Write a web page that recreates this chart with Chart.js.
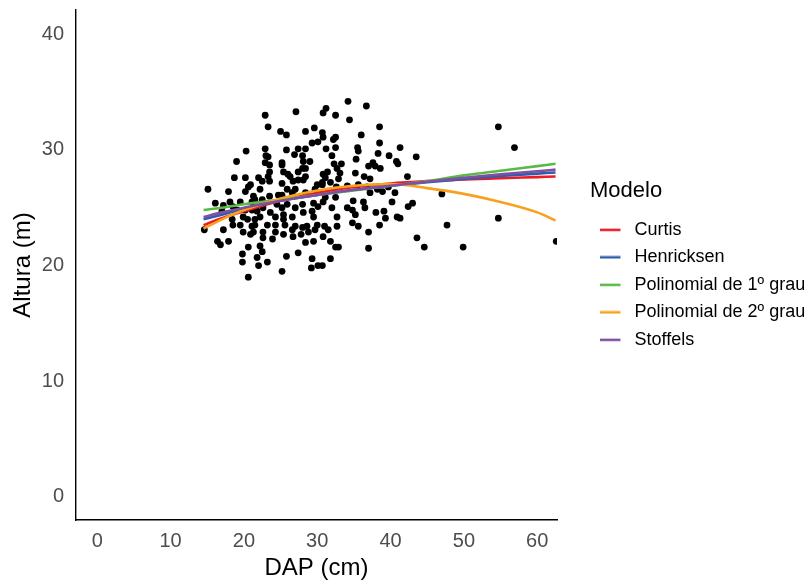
<!DOCTYPE html>
<html><head><meta charset="utf-8">
<script src="https://cdn.jsdelivr.net/npm/chart.js@4.4.1/dist/chart.umd.min.js"></script>
<style>html,body{margin:0;padding:0;background:#fff;overflow:hidden}</style>
</head><body>
<canvas id="c" width="812" height="583" style="display:block;width:812px;height:583px"></canvas>
<script>
// Observed trees: DAP (cm) and Altura (m)
const dap = [
27.1,22.9,23.3,25.0,25.8,28.4,29.6,29.3,30.1,20.3,22.9,25.8,23.0,23.3,27.4,28.4,26.9,28.0,19.0,25.2,25.2,23.5,28.1,29.0,28.0,23.5,25.4,26.0,27.4,28.4,28.4,18.7,20.2,22.0,22.5,23.3,23.5,25.2,26.7,27.4,30.0,
34.2,31.2,30.8,32.5,36.7,34.4,38.5,30.7,30.8,32.5,36.0,38.5,31.2,32.5,35.5,35.6,41.3,32.0,38.3,39.8,43.5,35.3,37.6,40.8,41.0,32.3,33.3,37.0,37.9,38.6,32.7,31.4,30.8,33.1,35.2,32.9,36.4,37.2,42.3,34.1,32.6,
15.1,20.2,20.6,22.2,23.5,25.2,27.0,28.4,16.1,17.2,19.5,21.5,18.5,22.6,24.5,25.9,27.0,28.0,29.5,20.2,21.8,23.6,25.4,26.6,28.1,29.5,18.4,20.5,22.2,24.3,14.6,18.5,19.5,21.5,23.2,24.3,25.6,27.0,28.6,30.0,17.2,19.9,20.9,22.6,24.3,25.4,28.8,22.6,23.9,26.7,27.8,16.4,17.9,16.8,20.6,22.2,22.5,28.4,29.5,19.8,25.8,21.8,29.3,19.8,22.0,23.2,29.2,30.1,25.2,20.6,
37.2,38.9,40.6,47.0,30.8,32.5,34.9,36.3,32.0,34.1,34.8,36.5,40.2,42.4,43.0,38.0,39.1,35.2,32.7,39.3,40.9,41.3,34.8,35.6,38.5,31.0,31.5,32.7,37.0,30.8,31.8,43.6,32.5,32.9,44.6,37.0,31.8,30.7,
54.7,56.9,47.7,54.7,49.9,62.6,
21.3,22.5,24.7,25.9,29.7,30.7,31.8,35.6,36.8,38.2,39.7,18.1,17.9,
22.9,26.3,28.1,20.9,26.6,21.1,22.6,17.0,19.1,21.1,25.2,29.3,30.1,19.9,21.5,25.4,21.1,21.3,26.6,28.0,29.7,27.4,
32.2,31.1,30.7,31.1
];
const altura = [
33.3,33.0,32.0,31.6,31.3,31.6,31.9,30.6,30.7,29.9,30.1,30.0,29.5,29.4,30.1,30.1,29.6,29.5,29.0,28.9,28.7,28.7,29.0,29.0,28.4,28.1,28.1,27.9,28.1,28.4,27.7,27.6,27.6,27.6,27.3,27.7,27.3,27.1,27.3,27.4,27.0,
34.2,33.6,33.2,33.0,33.8,32.6,32.0,31.5,31.1,31.1,31.3,30.6,30.1,30.2,30.2,29.9,30.2,29.5,29.7,29.5,29.4,29.2,28.9,29.0,28.8,28.8,28.8,28.6,28.6,28.4,28.4,28.1,27.9,28.0,28.0,27.5,27.7,27.5,27.7,26.9,26.8,
26.6,26.4,26.8,26.6,26.0,26.1,26.6,26.3,25.4,25.2,25.5,25.7,25.1,25.0,25.3,25.3,25.0,25.3,25.4,24.8,24.7,24.6,24.4,24.2,24.6,24.2,24.0,24.0,24.2,24.2,23.1,23.5,23.5,23.5,23.5,23.5,23.5,23.4,23.4,23.5,23.1,22.9,22.7,22.9,22.9,22.7,22.9,22.4,22.3,22.5,22.7,22.1,22.1,21.8,21.6,21.7,21.2,22.0,22.1,21.0,20.8,20.7,20.6,20.3,20.0,20.3,19.8,20.0,19.5,19.0,
26.3,26.4,26.3,26.2,25.5,25.9,25.6,25.5,25.0,25.0,24.8,25.0,25.5,25.1,25.4,24.6,24.7,24.4,24.2,24.1,24.2,24.1,23.7,23.4,23.5,23.4,23.1,23.4,22.9,22.5,22.1,22.4,21.6,21.6,21.6,21.5,20.6,20.0,
32.0,30.2,23.5,24.1,21.6,22.1,
26.0,25.7,26.1,26.6,26.6,27.0,27.2,27.0,26.8,26.6,26.8,25.5,26.4,
28.9,27.7,27.4,27.0,26.3,25.5,25.45,24.7,24.8,24.8,25.0,24.7,25.1,24.2,24.0,24.0,23.4,22.9,23.1,23.3,23.1,21.1,
30.9,27.6,27.2,25.9
];

// Fitted model curves, read at these DAP values
const curveDap   = [14.5, 17, 20, 25, 30, 35, 40, 45, 50, 55, 60, 62.5];
const curtis     = [23.5, 24.1, 24.7, 25.6, 26.3, 26.8, 27.1, 27.3, 27.45, 27.55, 27.65, 27.7];
const henricksen = [24.0, 24.4, 24.9, 25.6, 26.1, 26.55, 26.9, 27.2, 27.5, 27.75, 27.95, 28.05];
const pol1       = [24.8, 25.0, 25.3, 25.7, 26.1, 26.5, 26.9, 27.3, 27.8, 28.2, 28.6, 28.8];
const pol2       = [23.2, 24.0, 24.8, 25.8, 26.5, 26.9, 27.05, 26.7, 26.2, 25.5, 24.6, 23.9];
const stoffels   = [24.2, 24.6, 25.0, 25.6, 26.1, 26.55, 26.9, 27.25, 27.6, 27.9, 28.15, 28.3];

const modelNames = ['Curtis', 'Henricksen', 'Polinomial de 1º grau', 'Polinomial de 2º grau', 'Stoffels'];
const modelSeries = [curtis, henricksen, pol1, pol2, stoffels];
const modelColors = ['#EC1C24', '#2E5DAD', '#5BB947', '#F8A11D', '#7F4FA1'];

const xTicks = [0, 10, 20, 30, 40, 50, 60];
const yTicks = [0, 10, 20, 30, 40];

const FONT = "'Liberation Sans', Arial, Helvetica, sans-serif";

function keyImage(color) {
  const c = document.createElement('canvas');
  c.width = 26; c.height = 4;
  const g = c.getContext('2d');
  g.strokeStyle = color; g.lineWidth = 2.5;
  g.beginPath(); g.moveTo(0, 2); g.lineTo(21, 2); g.stroke();
  return c;
}

const datasets = [{
  label: 'obs',
  data: dap.map((d, i) => ({x: d, y: altura[i]})),
  backgroundColor: '#000', borderWidth: 0,
  pointRadius: 3.4, pointHoverRadius: 3.4,
  order: 99
}];
modelNames.forEach((name, k) => {
  datasets.push({
    label: name,
    data: curveDap.map((d, i) => ({x: d, y: modelSeries[k][i]})),
    showLine: true,
    borderColor: modelColors[k],
    backgroundColor: modelColors[k],
    borderWidth: 2.6,
    pointRadius: 0, pointHoverRadius: 0,
    pointStyle: keyImage(modelColors[k]),
    cubicInterpolationMode: 'monotone',
    fill: false,
    order: 5 - k
  });
});

new Chart(document.getElementById('c'), {
  type: 'scatter',
  data: { datasets },
  options: {
    responsive: false, animation: false, devicePixelRatio: 1,
    events: [],
    layout: { padding: { top: 10, left: 0, right: 0, bottom: 0 } },
    plugins: {
      tooltip: { enabled: false },
      legend: {
        position: 'right', align: 'center', fullSize: false, maxWidth: 222,
        title: { display: true, text: 'Modelo', position: 'start', color: '#000',
                 font: { family: FONT, size: 22 }, padding: { top: 8, bottom: 5.3 } },
        labels: { usePointStyle: true, pointStyleWidth: 26, padding: 9.5, color: '#000',
                  font: { family: FONT, size: 18 },
                  filter: item => item.datasetIndex > 0,
                  sort: (a, b) => a.datasetIndex - b.datasetIndex }
      }
    },
    scales: {
      x: {
        type: 'linear', position: 'bottom', min: -2.9, max: 62.7,
        grid: { display: false, drawTicks: false },
        border: { display: true, color: '#000', width: 1.4 },
        afterBuildTicks: s => { s.ticks = xTicks.map(v => ({value: v})); },
        ticks: { color: '#4D4D4D', padding: 9, font: { family: FONT, size: 20 } },
        title: { display: true, text: 'DAP (cm)', color: '#000', font: { family: FONT, size: 24 },
                 padding: { top: 0, bottom: 0 } },
        afterFit: s => { s.height = 63; s.paddingLeft = 0; s.paddingRight = 0; }
      },
      y: {
        type: 'linear', position: 'left', min: -2, max: 42.1,
        grid: { display: false, drawTicks: false },
        border: { display: true, color: '#000', width: 1.4 },
        afterBuildTicks: s => { s.ticks = yTicks.map(v => ({value: v})); },
        ticks: { color: '#4D4D4D', padding: 12, font: { family: FONT, size: 20 } },
        title: { display: true, text: 'Altura (m)', color: '#000', font: { family: FONT, size: 24 },
                 padding: { top: 9, bottom: 0 } },
        afterFit: s => { s.width = 76; s.paddingTop = 0; s.paddingBottom = 0; }
      },
      gap: {
        type: 'linear', position: 'right', display: true,
        grid: { display: false, drawTicks: false },
        border: { display: false },
        ticks: { display: false },
        afterFit: s => { s.width = 33; s.paddingTop = 0; s.paddingBottom = 0; }
      }
    }
  }
});
</script>
</body></html>
